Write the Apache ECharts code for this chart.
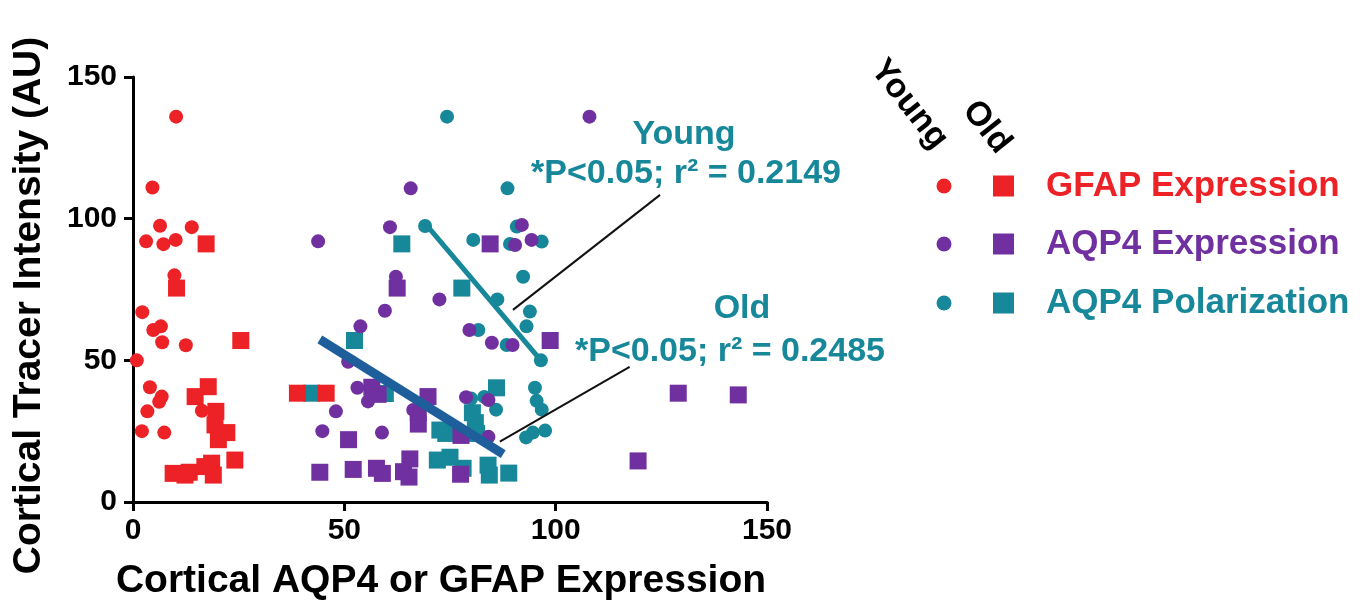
<!DOCTYPE html>
<html>
<head>
<meta charset="utf-8">
<script src="https://cdn.jsdelivr.net/npm/echarts@6/dist/echarts.min.js"></script>
<style>html,body{margin:0;padding:0;background:#fff;}#c{width:1368px;height:610px;}</style>
</head>
<body>
<div id="c"></div>
<script>
// ---- data ----
const xTicks = [0, 50, 100, 150];
const yTicks = [0, 50, 100, 150];

const gfapYoung = [[10.2,136],[4.6,111],[6.4,97.5],[13.9,97],[3.1,92],[7.2,91],[10.1,92.5],[9.8,80],
  [2.2,67],[4.8,60.7],[6.6,62],[6.9,56.4],[12.5,55.3],[0.9,50],[4.0,40.5],[6.8,37.2],[6.2,35.4],
  [3.4,32],[2.1,25],[7.4,24.5],[16.3,32.2]];
const gfapOld = [[17.3,91.1],[10.3,75.5],[25.5,57],[17.8,40.7],[14.7,37.2],[19.6,32],[19.4,27.2],
  [22.2,24.5],[20.2,22],[24.1,14.8],[18.6,13.7],[19.0,9.5],[17.0,12.5],[9.5,10.1],[12.3,9.5],[13.3,10.5],
  [38.9,38.4],[45.7,38.4]];
const aqp4Young = [[108,136],[65.7,110.7],[43.8,92],[60.8,97],[62.2,79.5],[72.5,71.5],[59.6,67.5],
  [92,97.8],[90.4,90.7],[94.3,92.5],[79.6,60.7],[84.9,56.2],[89.8,55.4],[78.8,37],[84.1,36],[84.1,23],
  [53.8,62],[50.9,49.5],[53.1,40.3],[55.6,35.5],[48,32],[44.8,25],[58.9,24.5],[66.3,32.5]];
const aqp4Old = [[84.5,91.1],[62.5,75.5],[98.7,57],[129,38.4],[143.2,37.8],[119.5,14.5],[56.5,40.5],
  [58,38],[69.8,37.2],[67.5,31.5],[67.5,27.5],[51,22],[77.6,23.5],[44.2,10.5],[52.1,11.5],[57.6,11.9],
  [59,10.1],[64,10.7],[65.5,15.2],[65.3,8.8],[77.5,9.8]];
const polYoung = [[74.3,136],[88.6,110.7],[90.8,97.2],[80.5,92.5],[89.2,91.1],[96.7,91.9],[92.3,79.5],
  [86.2,71.5],[93.9,67.2],[93.1,62],[69.1,97.4],[81.7,60.7],[88.4,55.4],[96.5,50],[95.1,40.3],[95.5,35.7],
  [96.7,32.6],[97.5,25.2],[93,22.8],[94.6,24.5],[83.1,37.1],[85.9,32.6],[80,36.5]];
const polOld = [[63.6,91.1],[77.8,75.5],[52.4,57],[42.3,38.4],[59.7,38.3],[74,24.2],[72,14.8],
  [75,15.8],[78.1,11.9],[84,13],[84.3,9.5],[88.9,10.2],[86,40.3],[80.3,31.5],[81,28],[81.3,24.2],[72.6,25.4]];

const youngFit = [[69.3,98],[96.5,50]];
const oldFit = [[44.2,57.4],[87.6,16.9]];
const leaderYoung = [[124.7,108.4],[89.9,67.8]];
const leaderOld = [[117.5,47.7],[86.8,21.3]];

const legendItems = ['GFAP Expression','AQP4 Expression','AQP4 Polarization'];
const groupLabels = ['Young','Old'];
const youngNote = ['Young','*P<0.05; r² = 0.2149'];
const oldNote = ['Old','*P<0.05; r² = 0.2485'];

// ---- styles ----
const RED = '#EC2227', PURPLE = '#7030A0', TEAL = '#17879A', DARKBLUE = '#1E5E9B';
const colors = [RED, PURPLE, TEAL];
const FONT = '"Liberation Sans", Arial, sans-serif';
const CIRC = 14, SQ = 17;

function sc(name, data, symbol, color, size, z) {
  return { name, type: 'scatter', data, symbol, symbolSize: size, z,
    itemStyle: { color, opacity: 1 }, emphasis: { disabled: true }, silent: true };
}
function ln(name, data, color, width, z) {
  return { name, type: 'line', data, symbol: 'none', z, silent: true,
    lineStyle: { color, width, cap: 'butt' }, emphasis: { disabled: true } };
}

const chart = echarts.init(document.getElementById('c'), null, { renderer: 'canvas' });

const graphics = [];
// rotated group labels
graphics.push({ type: 'text', x: 877, y: 64, rotation: -0.9, style: { text: groupLabels[0], font: 'bold 34px ' + FONT, fill: '#000', textAlign: 'left', textVerticalAlign: 'middle' } });
graphics.push({ type: 'text', x: 969, y: 105, rotation: -0.9, style: { text: groupLabels[1], font: 'bold 34px ' + FONT, fill: '#000', textAlign: 'left', textVerticalAlign: 'middle' } });
const rowY = [186, 244, 303];
legendItems.forEach((t, i) => {
  graphics.push({ type: 'circle', shape: { cx: 944, cy: rowY[i], r: 7.5 }, style: { fill: colors[i] } });
  graphics.push({ type: 'rect', shape: { x: 993, y: rowY[i] - 10.5, width: 21, height: 21 }, style: { fill: colors[i] } });
  graphics.push({ type: 'text', x: 1046, y: rowY[i], style: { text: t, font: 'bold 35px ' + FONT, fill: colors[i], textAlign: 'left', textVerticalAlign: 'middle' } });
});
// annotations
graphics.push({ type: 'text', x: 684, y: 135, style: { text: youngNote[0], font: 'bold 34px ' + FONT, fill: TEAL, textAlign: 'center', textVerticalAlign: 'middle' } });
graphics.push({ type: 'text', x: 686, y: 174, style: { text: youngNote[1], font: 'bold 34px ' + FONT, fill: TEAL, textAlign: 'center', textVerticalAlign: 'middle' } });
graphics.push({ type: 'text', x: 742, y: 309, style: { text: oldNote[0], font: 'bold 34px ' + FONT, fill: TEAL, textAlign: 'center', textVerticalAlign: 'middle' } });
graphics.push({ type: 'text', x: 730, y: 352, style: { text: oldNote[1], font: 'bold 34px ' + FONT, fill: TEAL, textAlign: 'center', textVerticalAlign: 'middle' } });

const axisCommon = {
  type: 'value', min: 0, max: 150, interval: 50,
  splitLine: { show: false },
  axisLine: { show: true, onZero: false, lineStyle: { color: '#000', width: 3 } },
  axisTick: { show: true, length: 9, lineStyle: { color: '#000', width: 3 } },
  axisLabel: { color: '#000', fontSize: 30, fontWeight: 'bold', fontFamily: FONT },
  nameLocation: 'middle'
};

chart.setOption({
  animation: false,
  backgroundColor: '#fff',
  grid: { left: 133, right: 601, top: 77, bottom: 108, containLabel: false },
  xAxis: Object.assign({}, axisCommon, {
    name: 'Cortical AQP4 or GFAP Expression', nameGap: 60,
    axisLabel: Object.assign({}, axisCommon.axisLabel, { margin: 14, formatter: v => xTicks.includes(v) ? String(v) : '' }),
    nameTextStyle: { color: '#000', fontSize: 39, fontWeight: 'bold', fontFamily: FONT, padding: [0, 18, 0, 0] }
  }),
  yAxis: Object.assign({}, axisCommon, {
    name: 'Cortical Tracer Intensity (AU)', nameGap: 84,
    axisLabel: Object.assign({}, axisCommon.axisLabel, { margin: 16, formatter: v => yTicks.includes(v) ? String(v) : '' }),
    nameTextStyle: { color: '#000', fontSize: 39, fontWeight: 'bold', fontFamily: FONT, padding: [0, 32, 0, 0] }
  }),
  series: [
    sc('AQP4 Polarization Old', polOld, 'rect', TEAL, SQ, 2),
    sc('AQP4 Polarization Young', polYoung, 'circle', TEAL, CIRC, 3),
    sc('AQP4 Expression Old', aqp4Old, 'rect', PURPLE, SQ, 4),
    sc('AQP4 Expression Young', aqp4Young, 'circle', PURPLE, CIRC, 5),
    sc('GFAP Expression Old', gfapOld, 'rect', RED, SQ, 6),
    sc('GFAP Expression Young', gfapYoung, 'circle', RED, CIRC, 7),
    ln('Young fit', youngFit, TEAL, 5, 8),
    ln('Old fit', oldFit, DARKBLUE, 9, 9),
    ln('Young note', leaderYoung, '#111', 2, 10),
    ln('Old note', leaderOld, '#111', 2, 10)
  ],
  graphic: graphics
});
</script>
</body>
</html>
